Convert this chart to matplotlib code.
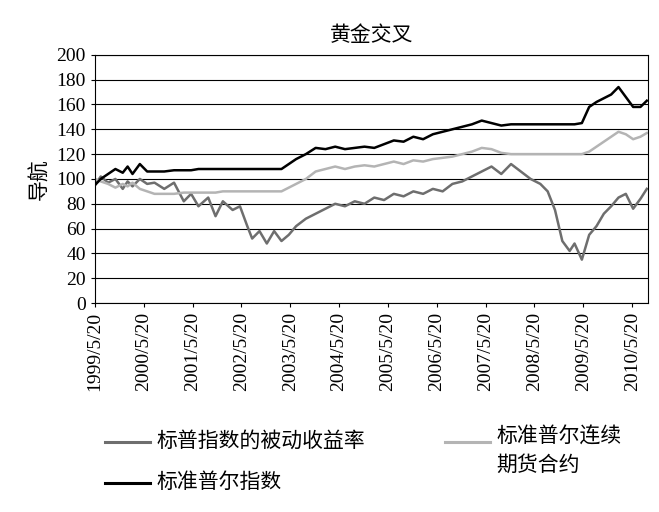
import matplotlib

matplotlib.use("Agg")
import matplotlib.pyplot as plt
from matplotlib.lines import Line2D

plt.rcParams["font.family"] = ["Liberation Serif", "Noto Sans CJK SC"]

# time in decimal years, roughly every two months
years = [1999.38, 1999.5, 1999.65, 1999.8, 1999.95, 2000.05, 2000.15, 2000.3, 2000.45, 2000.6,
         2000.8, 2001.0, 2001.2, 2001.35, 2001.5, 2001.7, 2001.85, 2002.0, 2002.2, 2002.35,
         2002.5, 2002.6, 2002.75, 2002.9, 2003.05, 2003.2, 2003.35, 2003.5, 2003.7, 2003.9,
         2004.1, 2004.3, 2004.5, 2004.7, 2004.9, 2005.1, 2005.3, 2005.5, 2005.7, 2005.9,
         2006.1, 2006.3, 2006.5, 2006.7, 2006.9, 2007.1, 2007.3, 2007.5, 2007.7, 2007.9,
         2008.1, 2008.3, 2008.5, 2008.65, 2008.8, 2008.95, 2009.1, 2009.2, 2009.35, 2009.5,
         2009.65, 2009.8, 2009.95, 2010.1, 2010.25, 2010.4, 2010.55, 2010.68]

sp_passive = [95, 102, 97, 100, 92, 98, 94, 100, 96, 97,
              92, 97, 82, 88, 78, 85, 70, 82, 75, 78,
              62, 52, 58, 48, 58, 50, 55, 62, 68, 72,
              76, 80, 78, 82, 80, 85, 83, 88, 86, 90,
              88, 92, 90, 96, 98, 102, 106, 110, 104, 112,
              106, 100, 96, 90, 75, 50, 42, 48, 35, 55,
              62, 72, 78, 85, 88, 76, 84, 92]

sp_futures = [100, 98, 96, 93, 96, 94, 97, 92, 90, 88,
              88, 88, 89, 89, 89, 89, 89, 90, 90, 90,
              90, 90, 90, 90, 90, 90, 93, 96, 100, 106,
              108, 110, 108, 110, 111, 110, 112, 114, 112, 115,
              114, 116, 117, 118, 120, 122, 125, 124, 121, 120,
              120, 120, 120, 120, 120, 120, 120, 120, 120, 122,
              126, 130, 134, 138, 136, 132, 134, 137]

sp_index = [95, 100, 104, 108, 105, 110, 104, 112, 106, 106,
            106, 107, 107, 107, 108, 108, 108, 108, 108, 108,
            108, 108, 108, 108, 108, 108, 112, 116, 120, 125,
            124, 126, 124, 125, 126, 125, 128, 131, 130, 134,
            132, 136, 138, 140, 142, 144, 147, 145, 143, 144,
            144, 144, 144, 144, 144, 144, 144, 144, 145, 158,
            162, 165, 168, 174, 166, 158, 158, 163]

tick_years = list(range(1999, 2011))
tick_labels = [f"{y}/5/20" for y in tick_years]
y_ticks = list(range(0, 201, 20))

fig = plt.figure(figsize=(6.59, 5.12), dpi=100)
ax = fig.add_axes([0.144, 0.408, 0.839, 0.485])

ax.plot(years, sp_passive, color="#6e6e6e", linewidth=1.8)
ax.plot(years, sp_futures, color="#b4b4b4", linewidth=1.8)
ax.plot(years, sp_index, color="#000000", linewidth=1.8)

ax.set_xlim(1999.38, 2010.7)
ax.set_ylim(0, 200)
ax.set_yticks(y_ticks)
ax.set_xticks([y + 0.38 for y in tick_years], tick_labels, rotation=90)
ax.tick_params(labelsize=14, length=3)
ax.grid(axis="y", color="black", linewidth=0.8)
ax.set_axisbelow(True)
ax.set_title("黄金交叉", fontsize=15, pad=10)
ax.set_ylabel("导航", fontsize=15)

# legend drawn below the plot
entries = [
    (0.16, 0.137, "#6e6e6e", "标普指数的被动收益率"),
    (0.675, 0.137, "#b4b4b4", "标准普尔连续\n期货合约"),
    (0.16, 0.057, "#000000", "标准普尔指数"),
]
for x, y, color, label in entries:
    fig.add_artist(Line2D([x, x + 0.068], [y, y], color=color, linewidth=2.2,
                          transform=fig.transFigure))
    if "\n" in label:
        fig.text(x + 0.078, y + 0.028, label, fontsize=15, va="top", linespacing=1.55)
    else:
        fig.text(x + 0.078, y, label, fontsize=15, va="center")

fig.savefig("out.png", dpi=100)
